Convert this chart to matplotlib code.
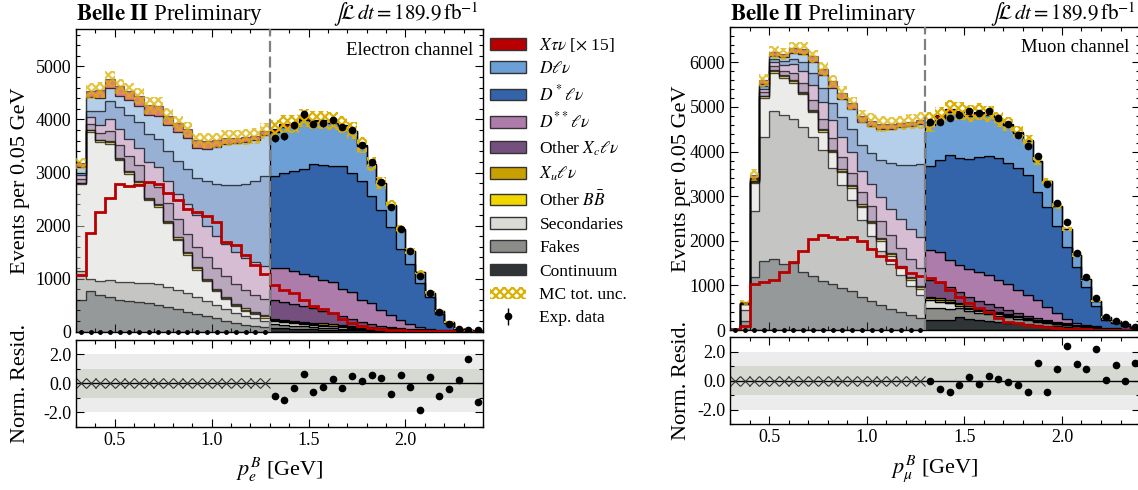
import numpy as np
import matplotlib
matplotlib.use("Agg")
import matplotlib.pyplot as plt
from matplotlib.patches import Patch
from matplotlib.ticker import MultipleLocator, FixedLocator, FormatStrFormatter

# --- data: 42 bins of 0.05 GeV from 0.3 to 2.4 GeV, first 20 bins blinded ---
bin_edges = np.round(np.linspace(0.3, 2.4, 43), 3)
n_blind = 20

# Electron channel
e_continuum = [600, 770, 700, 650, 600, 580, 560, 540, 500, 460, 420, 380, 340, 300, 250, 200, 160, 120, 100, 90,
               70, 62, 56, 50, 45, 40, 35, 30, 27, 24, 21, 18, 15, 12, 10, 8, 6, 5, 4, 3, 2, 2]
e_fakes = [550, 230, 250, 330, 340, 350, 360, 380, 400, 390, 360, 340, 310, 280, 250, 230, 200, 180, 150, 120,
           70, 62, 55, 48, 42, 36, 31, 27, 24, 20, 17, 14, 12, 10, 8, 6, 5, 4, 3, 2, 2, 1]
e_secondaries = [1635, 2768, 2629, 2566, 2292, 2050, 1871, 1560, 1453, 1193, 949, 730, 518, 372, 265, 179, 124, 90, 78, 55,
                 60, 55, 50, 45, 42, 38, 34, 30, 26, 22, 18, 15, 12, 10, 8, 6, 4, 3, 2, 1, 1, 0]
e_other_bb = [20, 30, 30, 30, 30, 30, 30, 28, 28, 26, 26, 24, 24, 22, 22, 22, 22, 22, 22, 22,
              22, 22, 21, 20, 19, 18, 16, 15, 14, 12, 10, 8, 7, 6, 5, 4, 3, 2, 2, 1, 1, 1]
e_xulnu = [5, 10, 12, 14, 16, 18, 20, 20, 22, 22, 24, 24, 25, 25, 25, 25, 25, 25, 25, 25,
           25, 25, 25, 25, 25, 25, 25, 24, 23, 22, 21, 20, 19, 18, 16, 14, 12, 10, 8, 6, 4, 3]
e_other_xc = [70, 100, 130, 200, 250, 280, 300, 300, 320, 330, 340, 350, 380, 400, 390, 390, 370, 340, 320, 310,
              350, 330, 310, 295, 265, 240, 210, 165, 120, 85, 55, 35, 22, 14, 9, 6, 4, 3, 2, 1, 1, 0]
e_dsslnu = [70, 140, 150, 220, 300, 330, 330, 370, 380, 420, 480, 550, 600, 600, 600, 600, 600, 620, 610, 620,
            600, 640, 625, 610, 605, 585, 585, 520, 515, 420, 390, 305, 225, 150, 90, 50, 23, 12, 8, 4, 2, 1]
e_dslnu = [50, 120, 250, 340, 410, 450, 480, 520, 520, 560, 615, 660, 706, 842, 976, 1120, 1265, 1394, 1536, 1692,
           1735, 1798, 1885, 1966, 2110, 2154, 2185, 2310, 2248, 2235, 2029, 1873, 1667, 1342, 1123, 824, 600, 293, 128, 30, 10, 5]
e_dlnu = [100, 250, 250, 240, 200, 270, 300, 360, 450, 490, 550, 600, 560, 610, 695, 770, 785, 783, 766, 774,
          834, 872, 845, 928, 811, 821, 818, 765, 782, 667, 588, 509, 409, 372, 249, 205, 75, 56, 25, 8, 4, 2]
e_xtaunu_x15 = [1070, 1855, 2260, 2520, 2780, 2750, 2760, 2830, 2780, 2620, 2480, 2310, 2260, 2180, 2060, 1690, 1640, 1440, 1250, 1080,
                880, 780, 720, 600, 480, 420, 360, 230, 160, 100, 70, 50, 40, 30, 22, 15, 10, 6, 4, 2, 1, 0]
e_mc_unc = [110, 150, 150, 150, 145, 145, 150, 160, 160, 150, 145, 140, 140, 140, 140, 145, 145, 145, 145, 150,
            170, 170, 170, 175, 170, 170, 170, 165, 160, 150, 130, 110, 90, 70, 55, 45, 35, 25, 15, 8, 5, 4]
e_data = [3645, 3680, 3887, 4095, 3915, 3925, 3993, 3860, 3806, 3518, 3197, 2823, 2355, 1936, 1512, 1056,
          732, 376, 145, 45, 32, 26]
e_resid = [-0.86, -1.12, -0.33, 0.67, -0.58, -0.28, 0.28, -0.35, 0.51, 0.19, 0.56, 0.39, -0.77, 0.58, -0.28,
           -1.86, 0.42, -0.89, -0.37, 0.21, 1.72, -1.32]

# Muon channel
m_continuum = [10, 200, 1180, 1550, 1590, 1490, 1510, 1300, 1200, 1100, 1030, 945, 865, 750, 640, 560, 480, 405, 335, 265,
               225, 225, 235, 290, 250, 215, 195, 175, 157, 148, 128, 108, 98, 79, 69, 54, 44, 34, 25, 20, 15, 10]
m_fakes = [5, 245, 1480, 2775, 3325, 3335, 3210, 3245, 3130, 2930, 2610, 2300, 2040, 1710, 1475, 1210, 995, 825, 650, 520,
           275, 265, 245, 197, 177, 167, 157, 148, 128, 108, 89, 74, 59, 49, 39, 30, 22, 15, 10, 8, 6, 4]
m_secondaries = [0, 140, 640, 885, 855, 835, 825, 740, 550, 415, 345, 295, 285, 295, 275, 235, 185, 150, 140, 130,
                 167, 148, 118, 59, 49, 44, 39, 34, 30, 25, 20, 16, 12, 10, 8, 6, 4, 3, 2, 1, 1, 0]
m_other_bb = [0, 5, 20, 30, 35, 35, 35, 35, 35, 35, 35, 35, 35, 35, 35, 35, 35, 35, 38, 40,
              40, 40, 35, 30, 28, 25, 22, 20, 18, 16, 14, 12, 10, 9, 8, 7, 6, 5, 4, 3, 2, 2]
m_xulnu = [0, 2, 10, 15, 20, 20, 22, 24, 25, 26, 27, 28, 28, 29, 29, 30, 30, 30, 30, 30,
           30, 30, 30, 30, 30, 30, 28, 28, 26, 25, 24, 22, 20, 18, 16, 14, 12, 10, 8, 6, 4, 3]
m_other_xc = [3, 6, 20, 73, 90, 100, 158, 197, 226, 236, 256, 275, 275, 285, 325, 365, 395, 395, 405, 415,
              385, 365, 295, 246, 207, 167, 138, 108, 84, 64, 44, 30, 20, 12, 8, 5, 3, 2, 1, 1, 0, 0]
m_dsslnu = [3, 7, 24, 79, 98, 118, 197, 265, 325, 364, 403, 452, 462, 452, 492, 550, 590, 640, 670, 690,
            674, 679, 620, 610, 635, 649, 645, 610, 590, 517, 462, 408, 305, 197, 93, 49, 22, 10, 5, 3, 1, 1]
m_dslnu = [2, 5, 15, 59, 69, 89, 128, 197, 275, 325, 394, 453, 512, 590, 708, 836, 1033, 1230, 1427, 1624,
           1880, 2060, 2344, 2405, 2468, 2587, 2675, 2724, 2704, 2722, 2694, 2431, 2242, 1958, 1628, 1241, 859, 460, 170, 108, 69, 30]
m_dlnu = [2, 5, 15, 59, 69, 89, 128, 177, 236, 276, 335, 394, 443, 512, 590, 689, 767, 836, 886, 905,
          917, 932, 966, 987, 963, 977, 921, 857, 866, 799, 769, 688, 567, 449, 393, 276, 169, 108, 59, 49, 34, 20]
m_xtaunu_x15 = [0, 100, 1035, 1080, 1120, 1300, 1525, 1770, 2045, 2125, 2085, 2045, 2075, 1990, 1820, 1655, 1565, 1415, 1280, 1200,
                1160, 1085, 900, 750, 600, 485, 410, 275, 187, 150, 112, 80, 60, 40, 30, 20, 15, 10, 6, 4, 2, 1]
m_mc_unc = [5, 60, 140, 150, 140, 135, 135, 150, 150, 150, 150, 150, 150, 145, 170, 170, 160, 160, 170, 190,
            220, 190, 205, 205, 190, 190, 180, 170, 150, 135, 115, 95, 70, 60, 55, 40, 35, 28, 20, 12, 8, 5]
m_data = [4670, 4670, 4760, 4820, 4916, 4857, 4916, 4760, 4610, 4371, 4125, 3901, 3265, 2840, 2414, 1734,
          1181, 710, 299, 210, 128, 75]
m_resid = [0.0, -0.56, -0.79, -0.32, 0.28, -0.19, 0.33, 0.14, -0.09, -0.30, -0.79, 1.26, -0.79, 0.84, 2.38,
           1.17, 0.84, 2.19, 0.07, 1.08, 0.0, 1.22]

# farby (bottom of stack first)
c_cont = '#2f3436'
c_fake = '#8c8d89'
c_sec = '#d9dbd5'
c_bb = '#f2d600'
c_xu = '#c8a000'
c_oxc = '#75507e'
c_dss = '#ae7cab'
c_ds = '#3363a8'
c_d = '#6c9fd5'
c_tau = '#b80000'
c_unc = '#dcb000'

plt.rcParams['font.family'] = ['Liberation Serif', 'DejaVu Serif']
plt.rcParams['mathtext.fontset'] = 'stix'
plt.rcParams['axes.unicode_minus'] = False
plt.rcParams['hatch.linewidth'] = 1.6
plt.rcParams['xtick.labelsize'] = 13
plt.rcParams['ytick.labelsize'] = 13
plt.rcParams['axes.labelsize'] = 16


def style_ticks(a):
    a.tick_params(which='both', direction='in', top=True, right=True, width=0.8)
    a.tick_params(which='major', length=6)
    a.tick_params(which='minor', length=3)
    a.xaxis.set_major_locator(MultipleLocator(0.5))
    a.xaxis.set_minor_locator(MultipleLocator(0.1))
    a.xaxis.set_major_formatter(FormatStrFormatter('%.1f'))
    for s in a.spines.values():
        s.set_linewidth(1.0)


def draw_channel(ax, axr, comps, tau_x15, mc_unc, data, resid, ymax, channel, xlabel, ylab_x, top_off):
    centers = 0.5 * (bin_edges[:-1] + bin_edges[1:])
    layers = comps + [np.array(tau_x15) / 15.0]
    colors = [c_cont, c_fake, c_sec, c_bb, c_xu, c_oxc, c_dss, c_ds, c_d, c_tau]
    parts = [(0, n_blind, 0.5), (n_blind, 42, 1.0)]

    # stacked MC, blinded part faded
    bottom = np.zeros(42)
    for vals, col in zip(layers, colors):
        top = bottom + np.array(vals, dtype=float)
        for i0, i1, a in parts:
            ax.stairs(top[i0:i1], bin_edges[i0:i1 + 1], baseline=bottom[i0:i1], fill=True,
                      facecolor=col, edgecolor='black', linewidth=0.9, alpha=a, zorder=2)
        bottom = top
    total = bottom
    unc = np.array(mc_unc, dtype=float)
    # MC uncertainty band (hatched), a bit stronger than the faded stack in the blinded part
    for i0, i1, a in [(0, n_blind, 0.75), (n_blind, 42, 1.0)]:
        ax.stairs((total + unc)[i0:i1], bin_edges[i0:i1 + 1], baseline=(total - unc)[i0:i1],
                  fill=True, facecolor='none', edgecolor=c_unc, hatch='xxxx', linewidth=0,
                  alpha=a, zorder=3)

    # X tau nu x 15
    ax.stairs(tau_x15, bin_edges, baseline=None, color=c_tau, linewidth=2, zorder=4)

    # data
    d = np.array(data, dtype=float)
    eb = ax.errorbar(centers[n_blind:], d, yerr=np.sqrt(d), fmt='o', color='black', ms=4.5,
                     elinewidth=1, capsize=0, zorder=5)
    ax.plot(centers[:n_blind], np.zeros(n_blind), 'o', color='black', ms=2.5, clip_on=False, zorder=5)

    ax.axvline(1.3, color='#808080', linestyle='--', dashes=(5, 2), linewidth=1.6, zorder=6)
    ax.set_xlim(0.3, 2.4)
    ax.set_ylim(0, ymax)
    style_ticks(ax)
    ax.yaxis.set_major_locator(MultipleLocator(1000))
    ax.yaxis.set_minor_locator(MultipleLocator(200))
    ax.tick_params(labelbottom=False)
    ax.set_ylabel('Events per 0.05 GeV')
    ax.yaxis.set_label_coords(ylab_x, 0.5)

    ax.text(0.0, 1 + top_off, r'$\mathbf{Belle\ II}$ Preliminary', transform=ax.transAxes,
            ha='left', va='baseline', fontsize=16.5)
    ax.text(0.99, 1 + top_off, r'$\int\!\mathcal{L}\,dt = 189.9\,\mathrm{fb}^{-1}$', transform=ax.transAxes,
            ha='right', va='baseline', fontsize=15)
    ax.text(0.975, 0.915, channel, transform=ax.transAxes, ha='right', va='baseline', fontsize=13.5)

    # residuals
    axr.axhspan(-2, 2, color='#ececec', linewidth=0)
    axr.axhspan(-1, 1, color='#d6d8d2', linewidth=0)
    axr.axhline(0, color='black', linewidth=1)
    axr.plot(centers[:n_blind], np.zeros(n_blind), 'x', color='#333333', ms=7, mew=0.8)
    axr.plot(centers[n_blind:], resid, 'o', color='black', ms=4.5)
    axr.set_xlim(0.3, 2.4)
    axr.set_ylim(-3, 3)
    style_ticks(axr)
    axr.yaxis.set_major_locator(FixedLocator([-2, 0, 2]))
    axr.yaxis.set_minor_locator(MultipleLocator(1))
    axr.yaxis.set_major_formatter(FormatStrFormatter('%.1f'))
    axr.set_ylabel('Norm. Resid.')
    axr.yaxis.set_label_coords(ylab_x, 0.5)
    axr.set_xlabel(xlabel, labelpad=5)
    return eb


def main():
    fig = plt.figure(figsize=(11.38, 4.9), dpi=100)
    ax_e = fig.add_axes([0.0668, 0.3231, 0.3576, 0.6171])
    axr_e = fig.add_axes([0.0668, 0.1292, 0.3576, 0.1769])
    ax_m = fig.add_axes([0.6415, 0.3265, 0.3603, 0.6190])
    axr_m = fig.add_axes([0.6415, 0.1341, 0.3603, 0.1776])

    e_comps = [e_continuum, e_fakes, e_secondaries, e_other_bb, e_xulnu, e_other_xc, e_dsslnu, e_dslnu, e_dlnu]
    m_comps = [m_continuum, m_fakes, m_secondaries, m_other_bb, m_xulnu, m_other_xc, m_dsslnu, m_dslnu, m_dlnu]

    eb = draw_channel(ax_e, axr_e, e_comps, e_xtaunu_x15, e_mc_unc, e_data, e_resid, 5700,
                      'Electron channel', r'$p_e^B$ [GeV]', -0.113, 0.03)
    draw_channel(ax_m, axr_m, m_comps, m_xtaunu_x15, m_mc_unc, m_data, m_resid, 6800,
                 'Muon channel', r'$p_\mu^B$ [GeV]', -0.095, 0.022)

    # legenda medzi panelmi
    handles = [
        Patch(facecolor=c_tau, edgecolor='#333333', lw=1),
        Patch(facecolor=c_d, edgecolor='#333333', lw=1),
        Patch(facecolor=c_ds, edgecolor='#333333', lw=1),
        Patch(facecolor=c_dss, edgecolor='#333333', lw=1),
        Patch(facecolor=c_oxc, edgecolor='#333333', lw=1),
        Patch(facecolor=c_xu, edgecolor='#333333', lw=1),
        Patch(facecolor=c_bb, edgecolor='#333333', lw=1),
        Patch(facecolor=c_sec, edgecolor='#333333', lw=1),
        Patch(facecolor=c_fake, edgecolor='#333333', lw=1),
        Patch(facecolor=c_cont, edgecolor='#333333', lw=1),
        Patch(facecolor='none', edgecolor=c_unc, hatch='xxxx', lw=0),
        eb,
    ]
    labels = [r'$X\tau\nu$ [$\times$ 15]', r'$D\ell\nu$', r'$D^*\ell\nu$', r'$D^{**}\ell\nu$',
              r'Other $X_c\ell\nu$', r'$X_u\ell\nu$', r'Other $B\bar{B}$', 'Secondaries', 'Fakes',
              'Continuum', 'MC tot. unc.', 'Exp. data']
    fig.legend(handles, labels, loc='upper left', bbox_to_anchor=(490 / 1138, 1 - 36 / 490),
               frameon=False, fontsize=12.5, handlelength=2.1, handleheight=0.65,
               handletextpad=0.75, labelspacing=0.42, borderpad=0, borderaxespad=0)

    fig.savefig('out.png', dpi=100)
    plt.close(fig)


if __name__ == "__main__":
    main()
